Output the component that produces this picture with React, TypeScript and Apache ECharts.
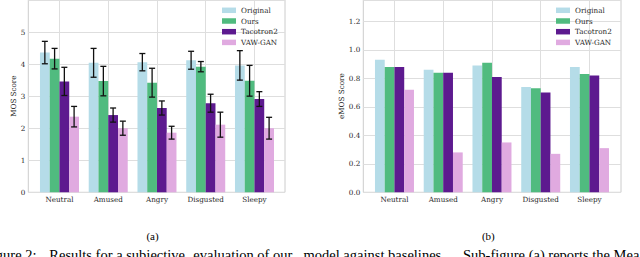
import React, { useEffect, useRef } from "react";
import * as echarts from "echarts";

const categories = ["Neutral", "Amused", "Angry", "Disgusted", "Sleepy"];
const methods = ["Original", "Ours", "Tacotron2", "VAW-GAN"];
const colors = ["#b5dce8", "#50bb7f", "#5d1a8f", "#e0aae0"];

const mosOriginal = [4.36, 4.04, 4.06, 4.12, 3.96];
const mosOurs = [4.17, 3.47, 3.42, 3.92, 3.48];
const mosTacotron2 = [3.46, 2.41, 2.63, 2.78, 2.91];
const mosVawGan = [2.36, 2.0, 1.86, 2.11, 2.0];

const mosOriginalErr = [0.35, 0.45, 0.27, 0.28, 0.46];
const mosOursErr = [0.32, 0.46, 0.45, 0.16, 0.48];
const mosTacotron2Err = [0.44, 0.22, 0.22, 0.28, 0.23];
const mosVawGanErr = [0.32, 0.22, 0.2, 0.39, 0.34];

const emosOriginal = [0.93, 0.86, 0.89, 0.74, 0.88];
const emosOurs = [0.88, 0.84, 0.91, 0.73, 0.83];
const emosTacotron2 = [0.88, 0.84, 0.81, 0.7, 0.82];
const emosVawGan = [0.72, 0.28, 0.35, 0.27, 0.31];

const mosTicks = [0, 1, 2, 3, 4, 5];
const emosTicks = [0.0, 0.2, 0.4, 0.6, 0.8, 1.0, 1.2];

const FONT = "DejaVu Serif";
const CAP_FONT = "Liberation Serif";
const TXT = "#262626";
const GRIDC = "#dedede";

export default function App() {
  const ref = useRef<HTMLDivElement>(null);
  useEffect(() => {
    const chart = echarts.init(ref.current!, null, { renderer: "svg" });
    const mosVals = [mosOriginal, mosOurs, mosTacotron2, mosVawGan];
    const mosErrs = [mosOriginalErr, mosOursErr, mosTacotron2Err, mosVawGanErr];
    const emosVals = [emosOriginal, emosOurs, emosTacotron2, emosVawGan];

    const errData: number[][] = [];
    mosVals.forEach((vals, s) => {
      vals.forEach((v, c) => {
        errData.push([c, v - mosErrs[s][c], v + mosErrs[s][c], s]);
      });
    });

    const T = -2;
    const H = 194.3;
    const labelStyle = { fontFamily: FONT, fontSize: 7.2, color: TXT };

    const frameAxisX = (gi: number) => ({
      gridIndex: gi,
      type: "category",
      data: categories,
      show: false,
    });
    const frameAxisY = (gi: number, max: number, interval: number, name: string, ticks: number[], dec: number) => ({
      gridIndex: gi,
      type: "value",
      min: 0,
      max,
      interval,
      name,
      nameLocation: "middle",
      nameGap: 11,
      nameTextStyle: { fontFamily: FONT, fontSize: 7.2, color: TXT },
      axisLine: { show: false },
      axisTick: { show: false },
      axisLabel: {
        ...labelStyle,
        margin: 3,
        showMaxLabel: false,
        formatter: (v: number) => {
          const hit = ticks.find((t) => Math.abs(t - v) < 1e-6);
          return hit === undefined ? "" : hit.toFixed(dec);
        },
      },
      splitLine: { show: true, lineStyle: { color: GRIDC, width: 1 } },
    });
    const barAxisX = (gi: number) => ({
      gridIndex: gi,
      type: "category",
      data: categories,
      axisLine: { show: false },
      axisTick: { show: false },
      axisLabel: { ...labelStyle, margin: 4 },
      splitLine: { show: true, alignWithLabel: true, lineStyle: { color: GRIDC, width: 1 } },
    });
    const barAxisY = (gi: number, max: number) => ({
      gridIndex: gi,
      type: "value",
      min: 0,
      max,
      show: false,
      splitLine: { show: false },
    });

    const barSeries = (vals: number[][], xi: number) =>
      vals.map((v, s) => ({
        type: "bar",
        name: methods[s],
        xAxisIndex: xi,
        yAxisIndex: xi,
        data: v,
        barWidth: 9.75,
        barGap: "0%",
        itemStyle: { color: colors[s] },
        z: 2,
      }));

    const legend = (left: number) => ({
      orient: "vertical",
      left,
      top: 6.3,
      padding: 0,
      itemWidth: 14,
      itemHeight: 5.5,
      itemGap: 2.7,
      icon: "rect",
      data: methods,
      selectedMode: false,
      textStyle: { fontFamily: FONT, fontSize: 7.2, color: TXT, lineHeight: 8 },
    });

    const cap = (text: string, x: number, align: string) => ({
      type: "text",
      x,
      y: 254.7,
      style: { text, fontFamily: CAP_FONT, fontSize: 14.5, fill: "#000", align, verticalAlign: "middle" },
    });

    chart.setOption({
      animation: false,
      grid: [
        { left: 28.3, width: 256.7, top: T, height: H, show: true, borderColor: "#cccccc", borderWidth: 1, backgroundColor: "transparent" },
        { left: 35.1, width: 243.75, top: T, height: H },
        { left: 363.3, width: 257.7, top: T, height: H, show: true, borderColor: "#cccccc", borderWidth: 1, backgroundColor: "transparent" },
        { left: 370.1, width: 243.75, top: T, height: H },
      ],
      xAxis: [frameAxisX(0), barAxisX(1), frameAxisX(2), barAxisX(3)],
      yAxis: [
        frameAxisY(0, 6, 1, "MOS Score", mosTicks, 0),
        barAxisY(1, 6),
        frameAxisY(2, 1.35, 0.2, "eMOS Score", emosTicks, 1),
        barAxisY(3, 1.35),
      ],
      legend: [legend(222), legend(556)],
      series: [
        ...barSeries(mosVals, 1),
        {
          type: "custom",
          xAxisIndex: 1,
          yAxisIndex: 1,
          z: 5,
          encode: { x: 0, y: [1, 2] },
          data: errData,
          renderItem: (params: any, api: any) => {
            const c = api.value(0);
            const lo = api.value(1);
            const hi = api.value(2);
            const s = api.value(3);
            const band = api.size([1, 0])[0];
            const p1 = api.coord([c, lo]);
            const p2 = api.coord([c, hi]);
            const x = p1[0] + (s - 1.5) * band * 0.2;
            const st = { stroke: "#111", lineWidth: 1.3 };
            return {
              type: "group",
              children: [
                { type: "line", shape: { x1: x, y1: p1[1], x2: x, y2: p2[1] }, style: st },
                { type: "line", shape: { x1: x - 3, y1: p1[1], x2: x + 3, y2: p1[1] }, style: st },
                { type: "line", shape: { x1: x - 3, y1: p2[1], x2: x + 3, y2: p2[1] }, style: st },
              ],
            };
          },
        },
        ...barSeries(emosVals, 3),
      ],
      graphic: [
        { type: "text", x: 152.5, y: 235.6, style: { text: "(a)", fontFamily: CAP_FONT, fontSize: 11, fill: "#000", align: "center", verticalAlign: "middle" } },
        { type: "text", x: 488.3, y: 235.6, style: { text: "(b)", fontFamily: CAP_FONT, fontSize: 11, fill: "#000", align: "center", verticalAlign: "middle" } },
        cap("Figure 2:", 36.5, "right"),
        cap("Results for a subjective", 49.3, "left"),
        cap("evaluation of our", 193.3, "left"),
        cap("model against baselines.", 303.5, "left"),
        cap("Sub-figure (a) reports the Mea", 463, "left"),
      ],
    });
    return () => chart.dispose();
  }, []);
  return <div ref={ref} style={{ position: "absolute", left: 0, top: 0, width: 640, height: 257 }} />;
}
